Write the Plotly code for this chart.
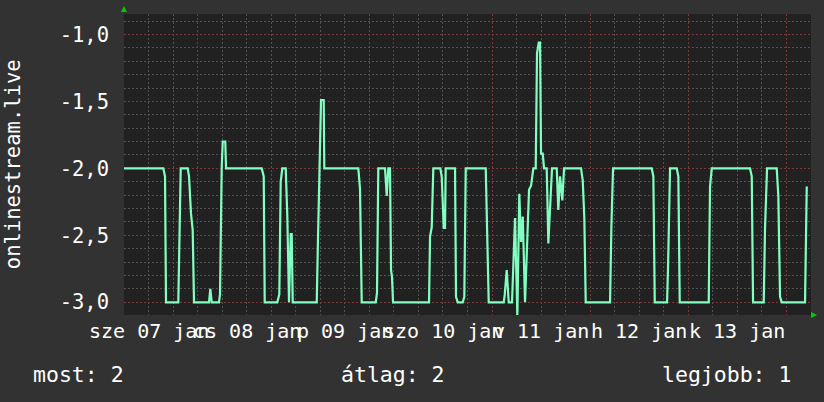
import pandas as pd
import plotly.graph_objects as go

# ---- data ----
start_time = "2015-01-07 06:00"
end_time = "2015-01-14 06:00"
hours = [0.0, 9.61, 10.03, 10.27, 13.28, 13.52, 13.87, 15.58, 15.90, 16.39, 16.80, 17.12,
         20.79, 21.11, 21.45, 23.23, 23.48, 23.89, 24.14, 24.77, 24.95, 33.68, 34.17, 34.41,
         37.49, 37.98, 38.32, 38.71, 39.55, 39.94, 40.35, 40.77, 41.01, 41.26, 47.13, 47.37,
         47.86, 48.18, 48.84, 48.98, 57.30, 57.72, 58.13, 61.56, 61.87, 62.19, 63.83, 64.25,
         64.64, 65.05, 65.30, 65.54, 65.79, 74.59, 74.84, 75.25, 75.64, 77.35, 77.70, 78.19,
         78.50, 78.67, 80.95, 81.19, 81.61, 82.83, 83.22, 83.57, 88.46, 88.78, 89.19, 92.86,
         93.10, 93.59, 94.08, 94.89, 95.21, 95.62, 96.19, 96.67, 97.09, 97.51, 98.07, 98.63,
         99.05, 99.54, 100.10, 100.68, 101.00, 101.42, 101.74, 101.98, 102.40, 102.72, 103.37,
         103.77, 104.26, 104.67, 105.82, 106.21, 106.63, 107.19, 107.61, 111.76, 112.18, 112.57,
         112.91, 118.86, 119.18, 119.59, 129.05, 129.45, 129.79, 132.80, 133.04, 133.53, 135.17,
         135.56, 135.90, 142.99, 143.31, 143.73, 153.09, 153.51, 153.83, 156.44, 156.76, 157.25,
         159.62, 160.01, 160.43, 160.84, 166.54, 166.79, 166.96]
values = [-2.0, -2.0, -2.06, -3.0, -3.0, -2.44, -2.0, -2.0, -2.06, -2.34, -2.46, -3.0,
          -3.0, -2.90, -3.0, -3.0, -2.94, -2.0, -1.80, -1.80, -2.0, -2.0, -2.06, -3.0,
          -3.0, -2.94, -2.10, -2.0, -2.0, -2.36, -3.0, -2.49, -2.49, -3.0, -3.0, -2.63,
          -2.0, -1.49, -1.49, -2.0, -2.0, -2.155, -3.0, -3.0, -2.93, -2.0, -2.0, -2.205,
          -2.0, -2.0, -2.76, -2.81, -3.0, -3.0, -2.51, -2.44, -2.0, -2.0, -2.065, -2.445,
          -2.445, -2.0, -2.0, -2.96, -3.0, -3.0, -2.96, -2.0, -2.0, -2.37, -3.0, -3.0,
          -2.945, -2.76, -3.0, -3.0, -2.74, -2.37, -3.1, -2.19, -2.55, -2.36, -3.0, -2.55,
          -2.16, -2.13, -2.0, -2.0, -1.14, -1.06, -1.06, -1.89, -1.89, -2.0, -2.0,
          -2.56, -2.24, -2.0, -2.0, -2.31, -2.06, -2.24, -2.0, -2.0, -2.09, -2.37,
          -3.0, -3.0, -2.445, -2.0, -2.0, -2.06, -3.0, -3.0, -2.74, -2.0, -2.0,
          -2.06, -3.0, -3.0, -2.135, -2.0, -2.0, -2.06, -3.0, -3.0, -2.445, -2.0,
          -2.0, -2.205, -2.96, -3.0, -3.0, -2.135, -2.135]

y_tickvals = [-3.0, -2.5, -2.0, -1.5, -1.0]
y_ticktext = ["-3,0", "-2,5", "-2,0", "-1,5", "-1,0"]
day_label_times = ["2015-01-07 12:00", "2015-01-08 12:00", "2015-01-09 12:00", "2015-01-10 12:00",
                   "2015-01-11 12:00", "2015-01-12 12:00", "2015-01-13 12:00"]
day_labels = ["sze 07 jan", "cs 08 jan", "p 09 jan", "szo 10 jan", "v 11 jan", "h 12 jan", "k 13 jan"]
axis_title = "onlinestream.live"
legend_texts = ["most: 2", "átlag: 2", "legjobb: 1"]

# ---- build ----
times = pd.Timestamp(start_time) + pd.to_timedelta(hours, unit="h")

FONT = "DejaVu Sans Mono"
OUTER = "#323232"
INNER = "#212121"
MINOR = "#525252"
MAJOR = "#7a3838"

fig = go.Figure()
fig.add_trace(go.Scatter(x=times, y=values, mode="lines",
                         line=dict(color="#80ffc0", width=2.2), hoverinfo="skip"))

fig.update_layout(
    width=824, height=402,
    margin=dict(l=124, r=13, t=14, b=87, autoexpand=False),
    paper_bgcolor=OUTER, plot_bgcolor=INNER,
    showlegend=False,
    font=dict(family=FONT, size=20, color="white"),
)

fig.update_xaxes(
    type="date", range=[start_time, end_time],
    showticklabels=False, ticks="",
    showgrid=True, gridcolor=MAJOR, griddash="2px,2px", gridwidth=1,
    tick0="2015-01-07 00:00", dtick=86400000,
    minor=dict(showgrid=True, gridcolor=MINOR, griddash="2px,2px", gridwidth=1,
               dtick=21600000, tick0="2015-01-07 00:00"),
    zeroline=False, showline=False, automargin=False,
)
fig.update_yaxes(
    range=[-3.095, -0.847],
    tickmode="array", tickvals=y_tickvals, ticktext=y_ticktext,
    ticks="", ticklabelstandoff=14,
    tickfont=dict(family=FONT, size=20.5, color="white"),
    showgrid=True, gridcolor=MAJOR, griddash="2px,2px", gridwidth=1,
    minor=dict(showgrid=True, gridcolor=MINOR, griddash="2px,2px", gridwidth=1,
               dtick=0.1, tick0=-3.0),
    zeroline=False, showline=False, automargin=False,
)

ann = []
for t, lab in zip(day_label_times, day_labels):
    ann.append(dict(x=t, xref="x", y=-0.052, yref="paper", text=lab, showarrow=False,
                    xanchor="center", yanchor="middle",
                    font=dict(family=FONT, size=20, color="white")))
ann.append(dict(x=-0.162, xref="paper", y=0.5, yref="paper", text=axis_title,
                textangle=-90, showarrow=False, xanchor="center", yanchor="middle",
                font=dict(family=FONT, size=20.5, color="white")))
for xp, txt in zip([-0.1355, 0.3135, 0.7805], legend_texts):
    ann.append(dict(x=xp, xref="paper", y=-0.198, yref="paper", text=txt, showarrow=False,
                    xanchor="left", yanchor="middle",
                    font=dict(family=FONT, size=21.5, color="white")))
fig.update_layout(annotations=ann)

# rrdtool-style axis arrows
fig.add_shape(type="path", xref="paper", yref="paper",
              path="M -0.0044,1.0066 L 0.0044,1.0066 L 0,1.0266 Z",
              fillcolor="#00cc00", line=dict(width=0))
fig.add_shape(type="path", xref="paper", yref="paper",
              path="M 1.0,0.0100 L 1.0,-0.0100 L 1.0087,0 Z",
              fillcolor="#00cc00", line=dict(width=0))

fig.write_html("out.html",
               config={"displayModeBar": False, "staticPlot": True},
               post_script="document.body.style.margin='0';document.body.style.background='#323232';")
